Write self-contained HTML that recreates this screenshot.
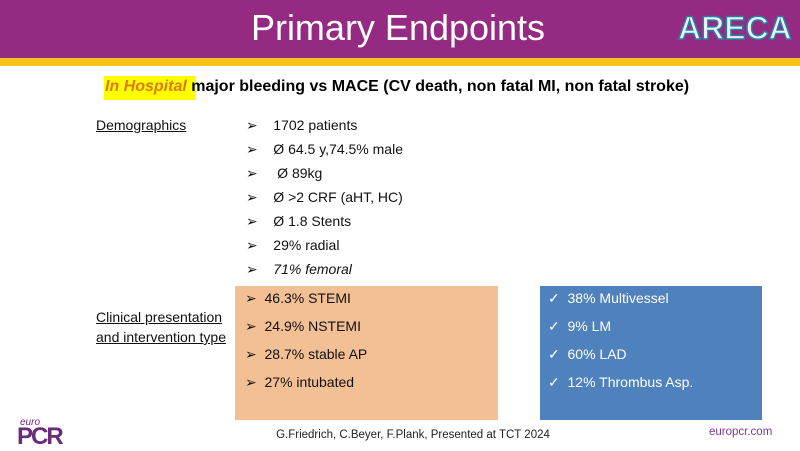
<!DOCTYPE html>
<html><head><style>
body{margin:0;width:800px;height:450px;position:relative;background:#fff;font-family:"Liberation Sans",sans-serif;overflow:hidden}
.a{position:absolute;white-space:nowrap}
.t{font-size:14px;color:#111}
</style></head><body>
<div class="a" style="left:0;top:0;width:800px;height:58px;background:#952a83"></div>
<div class="a" style="left:0;top:58px;width:800px;height:8px;background:#f5c218"></div>
<div class="a" style="left:0;top:7px;width:796px;text-align:center;color:#fff;font-size:36px">Primary Endpoints</div>
<div class="a" style="left:678px;top:10px;font-size:32px;font-weight:bold;color:#e8f4f8;-webkit-text-stroke:1.5px #2a7fa0">ARECA</div>
<div class="a" style="left:104px;top:76px;height:24px;width:92px;background:#ffff00"></div>
<div class="a" style="left:105px;top:78px;font-size:16px;font-weight:bold"><i style="color:#e07a10">In Hospital</i> <span>major bleeding vs MACE (CV death, non fatal MI, non fatal stroke)</span></div>
<div class="a t" style="left:96px;top:117px;text-decoration:underline">Demographics</div>
<div class="a t" style="left:246px;top:113px;line-height:24px">
➢&nbsp;&nbsp;&nbsp;&nbsp;1702 patients<br>➢&nbsp;&nbsp;&nbsp;&nbsp;Ø 64.5 y,74.5% male<br>➢&nbsp;&nbsp;&nbsp;&nbsp;&nbsp;Ø 89kg<br>➢&nbsp;&nbsp;&nbsp;&nbsp;Ø &gt;2 CRF (aHT, HC)<br>➢&nbsp;&nbsp;&nbsp;&nbsp;Ø 1.8 Stents<br>➢&nbsp;&nbsp;&nbsp;&nbsp;29% radial<br>➢&nbsp;&nbsp;&nbsp;&nbsp;<i>71% femoral</i></div>
<div class="a" style="left:235px;top:286px;width:263px;height:134px;background:#f3bf95"></div>
<div class="a" style="left:540px;top:286px;width:222px;height:134px;background:#4f81bd"></div>
<div class="a t" style="left:96px;top:307px;line-height:20px;text-decoration:underline">Clinical presentation<br>and intervention type</div>
<div class="a t" style="left:245px;top:284px;line-height:28px">➢&nbsp;&nbsp;46.3% STEMI<br>➢&nbsp;&nbsp;24.9% NSTEMI<br>➢&nbsp;&nbsp;28.7% stable AP<br>➢&nbsp;&nbsp;27% intubated</div>
<div class="a t" style="left:548px;top:284px;line-height:28px;color:#fff">✓&nbsp; 38% Multivessel<br>✓&nbsp; 9% LM<br>✓&nbsp; 60% LAD<br>✓&nbsp; 12% Thrombus Asp.</div>
<div class="a" style="left:20px;top:417px;font-size:10px;font-style:italic;color:#6b2a7a">euro</div>
<div class="a" style="left:17px;top:423px;font-size:24px;font-weight:bold;color:#6b2a7a;letter-spacing:-2px">PCR</div>
<div class="a" style="left:213px;top:429px;width:400px;text-align:center;font-size:11.5px;color:#222">G.Friedrich, C.Beyer, F.Plank, Presented at TCT 2024</div>
<div class="a" style="left:709px;top:426px;font-size:11.5px;color:#7a3a8a">europcr.com</div>
</body></html>
